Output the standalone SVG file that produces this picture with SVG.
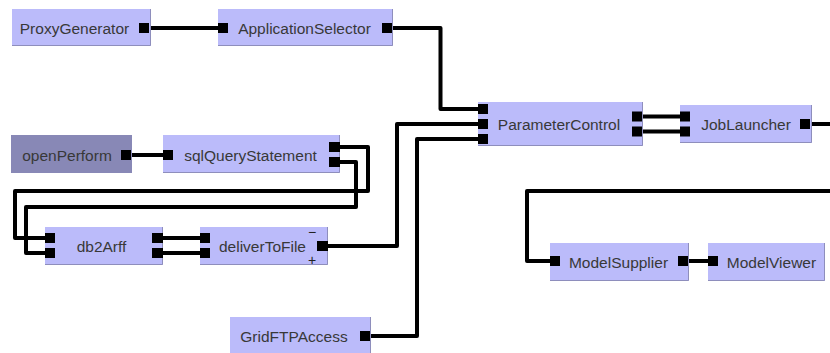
<svg xmlns="http://www.w3.org/2000/svg" width="830" height="353" viewBox="0 0 830 353">
  <style>
    .box { fill: #bbbbfa; }
    .box.dark { fill: #8888b6; }
    .edge { fill: none; stroke: #8e8ebc; stroke-width: 1; }
    .port { fill: #000; }
    .label { font-family: "Liberation Sans", Arial, sans-serif; font-size: 15.5px; fill: #383838; text-anchor: middle; }
    .sign { font-family: "Liberation Sans", Arial, sans-serif; font-size: 14px; fill: #222; text-anchor: middle; }
    .wire { fill: none; stroke: #000; stroke-width: 4; stroke-linejoin: round; }
  </style>

  <!-- connectors -->
  <g id="connectors">
    <path class="wire" d="M149 28 H218"/>
    <path class="wire" d="M392 28 H440.5 V109 H478"/>
    <path class="wire" d="M328 246 H397 V124 H478"/>
    <path class="wire" d="M370 336 H417 V139 H478"/>
    <path class="wire" d="M642 116.5 H680"/>
    <path class="wire" d="M642 131.5 H680"/>
    <path class="wire" d="M810 124 H830"/>
    <path class="wire" d="M830 191 H527 V261 H550"/>
    <path class="wire" d="M688 261 H708"/>
    <path class="wire" d="M131 155 H163"/>
    <path class="wire" d="M340 147 H368 V191 H15 V238 H45"/>
    <path class="wire" d="M340 162 H356 V207 H26 V253 H45"/>
    <path class="wire" d="M163 238 H200"/>
    <path class="wire" d="M163 253 H200"/>
  </g>

  <g id="ProxyGenerator">
    <rect class="box" x="12" y="9" width="139" height="37"/>
    <path class="edge" d="M150.5 9 V45.5 H12"/>
    <rect class="port" x="139" y="23" width="10" height="10"/>
    <text class="label" x="74.5" y="33.5">ProxyGenerator</text>
  </g>

  <g id="ApplicationSelector">
    <rect class="box" x="218" y="9" width="175" height="37"/>
    <path class="edge" d="M392.5 9 V45.5 H218"/>
    <rect class="port" x="218" y="23" width="10" height="10"/>
    <rect class="port" x="382" y="23" width="10" height="10"/>
    <text class="label" x="304.5" y="33.5">ApplicationSelector</text>
  </g>

  <g id="ParameterControl">
    <rect class="box" x="478" y="102" width="165" height="44"/>
    <path class="edge" d="M642.5 102 V145.5 H478"/>
    <rect class="port" x="478" y="104" width="10" height="10"/>
    <rect class="port" x="478" y="119" width="10" height="10"/>
    <rect class="port" x="478" y="134" width="10" height="10"/>
    <rect class="port" x="632" y="111.5" width="10" height="10"/>
    <rect class="port" x="632" y="126.5" width="10" height="10"/>
    <text class="label" x="559" y="129.5">ParameterControl</text>
  </g>

  <g id="JobLauncher">
    <rect class="box" x="680" y="105" width="132" height="38"/>
    <path class="edge" d="M811.5 105 V142.5 H680"/>
    <rect class="port" x="680" y="111.5" width="10" height="10"/>
    <rect class="port" x="680" y="126.5" width="10" height="10"/>
    <rect class="port" x="800" y="119" width="10" height="10"/>
    <text class="label" x="746" y="130">JobLauncher</text>
  </g>

  <g id="openPerform">
    <rect class="box dark" x="11" y="135" width="121" height="38"/>
    <rect class="port" x="121" y="150" width="10" height="10"/>
    <text class="label" x="67" y="161">openPerform</text>
  </g>

  <g id="sqlQueryStatement">
    <rect class="box" x="163" y="135" width="177" height="38"/>
    <path class="edge" d="M339.5 135 V172.5 H163"/>
    <rect class="port" x="163" y="150" width="10" height="10"/>
    <rect class="port" x="329" y="142" width="11" height="10"/>
    <rect class="port" x="329" y="157" width="11" height="10"/>
    <text class="label" x="250.5" y="161">sqlQueryStatement</text>
  </g>

  <g id="db2Arff">
    <rect class="box" x="45" y="227" width="118" height="38"/>
    <path class="edge" d="M162.5 227 V264.5 H45"/>
    <rect class="port" x="45" y="233" width="10" height="10"/>
    <rect class="port" x="45" y="248" width="10" height="10"/>
    <rect class="port" x="152" y="233" width="11" height="10"/>
    <rect class="port" x="152" y="248" width="11" height="10"/>
    <text class="label" x="101.5" y="252">db2Arff</text>
  </g>

  <g id="deliverToFile">
    <rect class="box" x="200" y="227" width="128" height="38"/>
    <path class="edge" d="M327.5 227 V264.5 H200"/>
    <rect class="port" x="200" y="233" width="10" height="10"/>
    <rect class="port" x="200" y="248" width="10" height="10"/>
    <rect class="port" x="317" y="241" width="11" height="10"/>
    <text class="label" x="262.5" y="252">deliverToFile</text>
    <text class="sign" x="312" y="237">−</text>
    <text class="sign" x="312" y="264.5">+</text>
  </g>

  <g id="GridFTPAccess">
    <rect class="box" x="230" y="317" width="141" height="38"/>
    <path class="edge" d="M370.5 317 V355"/>
    <rect class="port" x="360" y="331" width="10" height="10"/>
    <text class="label" x="294" y="342">GridFTPAccess</text>
  </g>

  <g id="ModelSupplier">
    <rect class="box" x="550" y="243" width="139" height="38"/>
    <path class="edge" d="M688.5 243 V280.5 H550"/>
    <rect class="port" x="550" y="256" width="10" height="10"/>
    <rect class="port" x="678" y="256" width="10" height="10"/>
    <text class="label" x="618.5" y="268">ModelSupplier</text>
  </g>

  <g id="ModelViewer">
    <rect class="box" x="708" y="243" width="117" height="38"/>
    <path class="edge" d="M824.5 243 V280.5 H708"/>
    <rect class="port" x="708" y="256" width="10" height="10"/>
    <text class="label" x="771.5" y="268">ModelViewer</text>
  </g>
</svg>
